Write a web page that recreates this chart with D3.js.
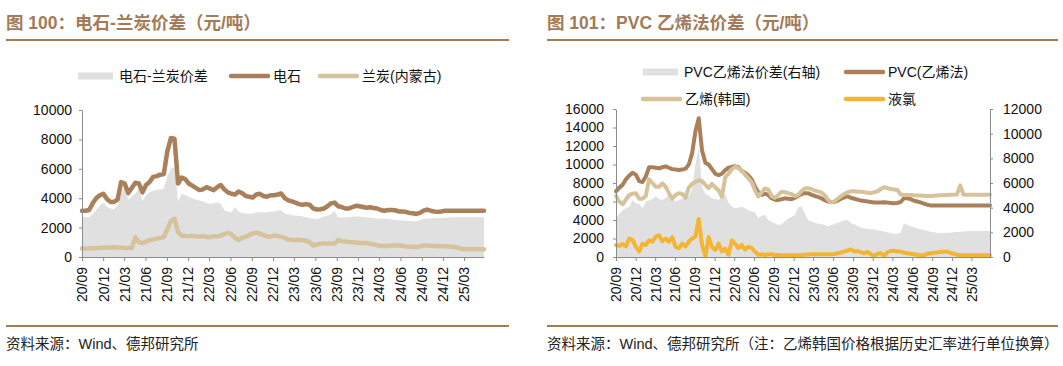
<!DOCTYPE html>
<html>
<head>
<meta charset="utf-8">
<script src="https://cdn.jsdelivr.net/npm/d3@7"></script>
<style>
  html, body { margin: 0; padding: 0; background: #fff; }
  svg { display: block; font-family: "Liberation Sans", "Noto Sans CJK SC", sans-serif; }
</style>
</head>
<body>
<svg id="chart" width="1063" height="366"></svg>
<script>
// ---------------- DATA ----------------
const quarterLabels = ["20/09","20/12","21/03","21/06","21/09","21/12","22/03","22/06","22/09","22/12",
  "23/03","23/06","23/09","23/12","24/03","24/06","24/09","24/12","25/03"];
const startDate = "2020-09-01";
const endDate = "2025-05-26";

// Chart 100 (left): 电石, 兰炭(内蒙古), 价差 — semi-monthly readings
const carbide = [3150,3150,3200,3650,4000,4200,4300,3950,3750,3750,3900,5100,5000,4350,4700,5050,5000,4400,4900,5100,
  5450,5500,5600,5650,7200,8100,8050,5000,5400,5300,5000,4850,4700,4550,4600,4750,4650,4550,4750,4900,
  4600,4400,4300,4250,4450,4350,4150,4100,4050,4250,4300,4150,4100,4200,4200,4250,4320,4000,3850,3780,
  3700,3600,3550,3600,3550,3300,3230,3250,3300,3450,3650,3700,3450,3400,3300,3300,3400,3480,3450,3400,
  3350,3380,3330,3300,3200,3150,3200,3200,3180,3100,3100,3070,3000,2980,2930,3000,3150,3230,3150,3100,
  3070,3100,3140,3140,3140,3140,3140,3140,3140,3140,3140,3140,3140,3140];
const semicoke = [570,580,590,600,610,620,630,640,650,660,650,630,610,610,620,1350,1000,950,1050,1150,
  1200,1250,1300,1350,1900,2450,2600,1700,1450,1430,1420,1430,1420,1400,1420,1380,1350,1420,1400,1450,
  1550,1650,1550,1300,1150,1300,1380,1500,1600,1660,1600,1480,1400,1380,1480,1420,1380,1300,1180,1170,
  1160,1150,1140,1100,1020,780,850,900,910,910,910,910,1150,1080,1050,1020,1000,980,960,950,
  950,900,850,800,750,740,750,780,800,780,760,720,700,690,680,720,780,790,770,750,
  740,730,730,710,690,680,600,530,520,520,520,520,520,520];
const carbideSpread = [2700,2700,2700,2900,3200,3500,3700,3400,3300,3250,3500,4300,4900,3900,4100,4300,4700,3800,4200,4400,
  4500,4550,4600,4650,5500,6000,6100,3800,4300,4200,4100,4000,3900,3850,3800,3650,3600,3650,3700,3600,
  3200,3100,3050,3400,3100,3000,2950,2950,2950,3050,3050,3050,3050,3100,3100,3150,3180,2950,2900,2850,
  2800,2800,2750,2700,2650,2600,2570,2650,2750,2800,2900,3150,2700,2680,2700,2720,2730,2750,2750,2720,
  2700,2680,2650,2620,2600,2600,2580,2550,2520,2500,2480,2460,2450,2440,2430,2500,2600,2620,2620,2640,
  2640,2650,2660,2680,2700,2700,2700,2700,2700,2700,2700,2700,2700,2700];

// Chart 101 (right): PVC(乙烯法), 乙烯(韩国), 液氯 (left axis); PVC乙烯法价差 (right axis)
const pvc = [7100,7500,7800,8400,8800,9100,8900,8200,8100,8700,9700,9700,9650,9600,9700,9800,9650,9500,9450,9400,
  9450,9550,10000,11200,13600,15000,11500,10200,10000,9500,9000,8850,9000,9400,9650,9750,9800,9700,9300,9100,
  8800,8400,7600,7000,6700,6850,6700,6350,6200,6150,6250,6340,6300,6250,6400,6600,6800,6900,6900,6750,
  6600,6500,6350,6150,6000,5950,5950,6100,6300,6450,6550,6400,6300,6200,6100,6050,6000,5950,5900,5900,
  5900,5920,5880,5850,5820,5850,5950,6350,6350,6250,6100,6000,5900,5780,5650,5580,5560,5560,5560,5560,
  5560,5560,5560,5560,5560,5560,5560,5560,5560,5560,5560,5560,5560,5560];
const ethylene = [6600,6000,5700,6200,6700,6850,6900,6300,6300,6600,8400,8000,7600,7600,7950,7600,6900,6300,6700,6900,
  6850,6400,7500,7900,8150,8300,8200,7800,7450,7900,7500,7200,6500,8600,9000,9500,9750,9600,9350,8900,
  8500,8100,7200,6550,7000,7400,7300,6600,6400,6700,7050,7000,6900,6800,6600,6700,7100,7400,7450,7350,
  7200,7100,6950,6700,6200,5900,6000,6300,6600,6800,7000,7100,7100,7050,7050,7000,6950,6900,7000,7100,
  7350,7550,7450,7350,7300,7250,6750,6700,6700,6700,6680,6650,6650,6620,6600,6600,6620,6650,6680,6700,
  6700,6720,6720,6750,7750,6750,6720,6720,6720,6720,6720,6720,6720,6720];
const chlorine = [1300,1200,1400,1150,2000,1850,1100,600,1450,1300,1800,1650,2200,2350,1700,2000,1650,2150,1100,950,
  1450,1150,1650,2000,2200,4100,1300,100,2150,1100,750,1450,600,900,250,1800,1450,950,1300,800,
  1100,950,580,250,300,220,300,300,220,220,200,200,180,180,180,200,220,250,280,290,
  290,290,290,290,290,300,320,400,480,600,700,830,600,650,500,400,550,300,120,350,
  400,120,500,650,680,620,580,450,400,350,300,250,200,180,350,400,450,480,550,580,
  580,450,350,250,180,180,180,180,180,180,180,180,180,180];
const pvcSpread = [3100,3500,3800,3950,4100,4600,4350,4300,3950,4500,4600,4700,4900,4700,4620,4800,5000,4700,4500,4600,
  4750,4800,4900,5500,7500,8900,5700,5100,5000,4750,4700,4620,4900,5100,4400,4100,3950,4000,4080,3950,
  3800,3700,3600,3150,3350,3400,3000,2850,2730,2600,2650,2870,3100,3270,3400,4000,4100,3600,3000,2900,
  2780,2720,2680,2600,2510,2600,2680,2780,2870,2950,3000,2730,2650,2510,2400,2320,2300,2260,2240,2180,
  2120,2050,2000,1950,1870,1900,1970,2730,2600,2510,2420,2330,2240,2180,2120,2050,2000,1950,1920,1940,
  1960,1970,2000,2020,2050,2060,2080,2100,2100,2110,2110,2110,2110,2110];

const leftYTicks = [0,2000,4000,6000,8000,10000];
const rightLeftYTicks = [0,2000,4000,6000,8000,10000,12000,14000,16000];
const rightRightYTicks = [0,2000,4000,6000,8000,10000,12000];

// ---------------- STYLE ----------------
const C = {
  title: "#a27b58",
  rule: "#a67c52",
  brown: "#a9805a",
  tan: "#d6c39c",
  orange: "#f5b534",
  gray: "#e0e0e0",
  axis: "#8c8c8c",
  text: "#111"
};

const svg = d3.select("#chart");
const parseISO = d3.timeParse("%Y-%m-%d");
const parseQ = d3.timeParse("%y/%m");
const t0 = parseISO(startDate), t1 = parseISO(endDate);
const N = carbide.length;
const dates = d3.range(N).map(i => new Date(+t0 + i * (t1 - t0) / (N - 1)));
const tickDates = quarterLabels.map(parseQ);
const fmtQ = d3.timeFormat("%y/%m");

function header(x0, x1, title) {
  svg.append("text").attr("x", x0).attr("y", 29)
    .attr("font-size", 17.5).attr("font-weight", "bold").attr("fill", C.title)
    .text(title);
  svg.append("line").attr("x1", x0).attr("x2", x1).attr("y1", 40).attr("y2", 40)
    .attr("stroke", C.rule).attr("stroke-width", 2);
}
function footer(x0, x1, txt) {
  svg.append("line").attr("x1", x0).attr("x2", x1).attr("y1", 326).attr("y2", 326)
    .attr("stroke", C.rule).attr("stroke-width", 2);
  svg.append("text").attr("x", x0).attr("y", 349)
    .attr("font-size", 14.5).attr("fill", "#222").text(txt);
}
function legendRect(x, y, label) {
  svg.append("rect").attr("x", x).attr("y", y - 3.5).attr("width", 35).attr("height", 7).attr("fill", C.gray);
  svg.append("text").attr("x", x + 41).attr("y", y).attr("dy", "0.35em")
    .attr("font-size", 14).attr("fill", C.text).text(label);
}
function legendLine(x, y, color, label) {
  svg.append("line").attr("x1", x).attr("x2", x + 37).attr("y1", y).attr("y2", y)
    .attr("stroke", color).attr("stroke-width", 4.5).attr("stroke-linecap", "round");
  svg.append("text").attr("x", x + 42).attr("y", y).attr("dy", "0.35em")
    .attr("font-size", 14).attr("fill", C.text).text(label);
}
function styleAxis(g) {
  g.selectAll("path, line").attr("stroke", C.axis);
  g.selectAll("text").attr("font-size", 14).attr("fill", C.text)
    .attr("font-family", "Liberation Sans, Arial, sans-serif");
}
function xAxis(x, yPos) {
  const g = svg.append("g").attr("transform", `translate(0,${yPos})`)
    .call(d3.axisBottom(x).tickValues(tickDates).tickFormat(fmtQ).tickSize(4).tickSizeOuter(0));
  styleAxis(g);
  g.selectAll("text").attr("transform", "rotate(-90)").attr("text-anchor", "end")
    .attr("x", -10).attr("y", 0).attr("dy", "0.35em");
}
function drawLine(x, y, vals, color, w) {
  svg.append("path").datum(vals)
    .attr("fill", "none").attr("stroke", color).attr("stroke-width", w)
    .attr("stroke-linejoin", "round").attr("stroke-linecap", "round")
    .attr("d", d3.line().x((d, i) => x(dates[i])).y(d => y(d)));
}
function drawArea(x, y, vals) {
  svg.append("path").datum(vals).attr("fill", C.gray)
    .attr("d", d3.area().x((d, i) => x(dates[i])).y0(y(0)).y1(d => y(d)));
}

// ---------------- LEFT CHART ----------------
header(6, 509, "图 100：电石-兰炭价差（元/吨）");
footer(6, 509, "资料来源：Wind、德邦研究所");
legendRect(78, 76, "电石-兰炭价差");
legendLine(231, 76, C.brown, "电石");
legendLine(320, 76, C.tan, "兰炭(内蒙古)");

const xL = d3.scaleTime().domain([t0, t1]).range([82, 484]);
const yL = d3.scaleLinear().domain([0, 10000]).range([257, 110]);
drawArea(xL, yL, carbideSpread);
drawLine(xL, yL, carbide, C.brown, 4.5);
drawLine(xL, yL, semicoke, C.tan, 4.5);
const gyl = svg.append("g").attr("transform", "translate(82,0)")
  .call(d3.axisLeft(yL).tickValues(leftYTicks).tickFormat(d3.format("d")).tickSize(3).tickSizeOuter(0));
styleAxis(gyl);
gyl.selectAll("text").attr("x", -10);
xAxis(xL, 257);

// ---------------- RIGHT CHART ----------------
header(547, 1058, "图 101：PVC 乙烯法价差（元/吨）");
footer(547, 1058, "资料来源：Wind、德邦研究所（注：乙烯韩国价格根据历史汇率进行单位换算）");
legendRect(643, 72, "PVC乙烯法价差(右轴)");
legendLine(846, 72, C.brown, "PVC(乙烯法)");
legendLine(643, 99, C.tan, "乙烯(韩国)");
legendLine(846, 99, C.orange, "液氯");

const xR = d3.scaleTime().domain([t0, t1]).range([616, 990]);
const yR1 = d3.scaleLinear().domain([0, 16000]).range([257, 109]);
const yR2 = d3.scaleLinear().domain([0, 12000]).range([257, 109]);
drawArea(xR, yR2, pvcSpread);
drawLine(xR, yR1, pvc, C.brown, 4);
drawLine(xR, yR1, ethylene, C.tan, 4);
drawLine(xR, yR1, chlorine, C.orange, 4);
const gyr1 = svg.append("g").attr("transform", "translate(616,0)")
  .call(d3.axisLeft(yR1).tickValues(rightLeftYTicks).tickFormat(d3.format("d")).tickSize(3).tickSizeOuter(0));
styleAxis(gyr1);
gyr1.selectAll("text").attr("x", -12);
const gyr2 = svg.append("g").attr("transform", "translate(990,0)")
  .call(d3.axisRight(yR2).tickValues(rightRightYTicks).tickFormat(d3.format("d")).tickSize(3).tickSizeOuter(0));
styleAxis(gyr2);
gyr2.selectAll("text").attr("x", 13);
xAxis(xR, 257);
</script>
</body>
</html>
